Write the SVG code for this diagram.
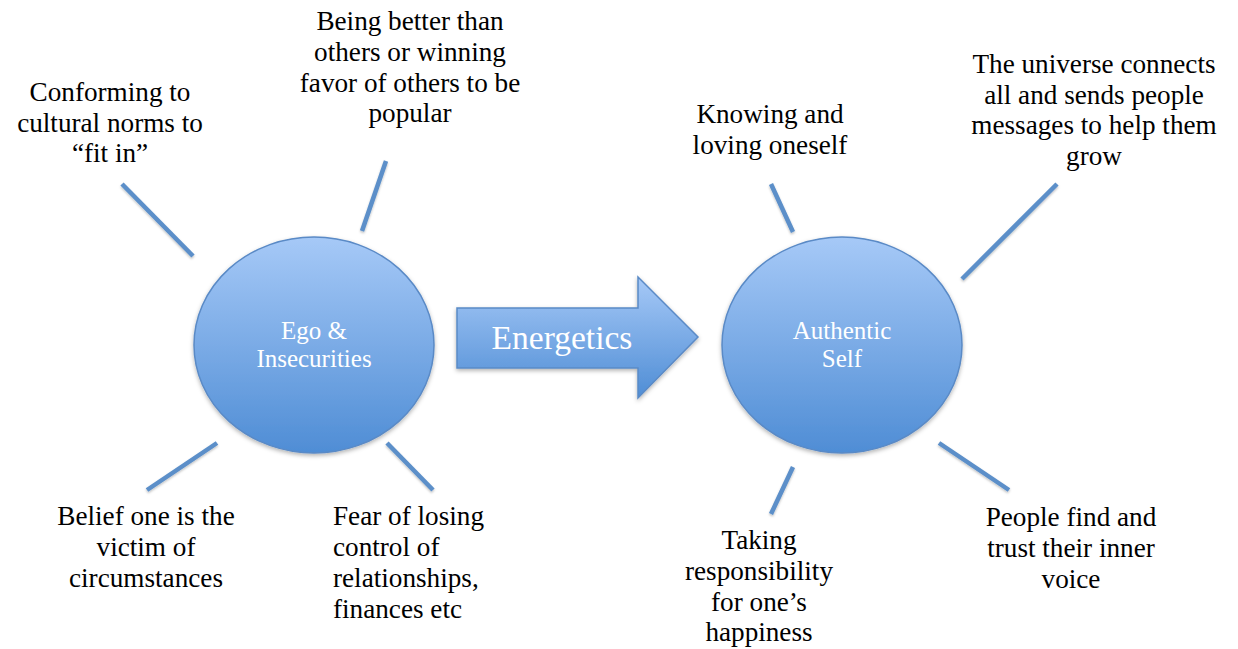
<svg xmlns="http://www.w3.org/2000/svg" width="1238" height="649" viewBox="0 0 1238 649">
  <defs>
    <linearGradient id="blueGrad" x1="0" y1="0" x2="0" y2="1">
      <stop offset="0" stop-color="#a6c9f7"/>
      <stop offset="1" stop-color="#4f8dd5"/>
    </linearGradient>
    <filter id="shadow" x="-20%" y="-20%" width="140%" height="140%">
      <feDropShadow dx="0" dy="2" stdDeviation="2" flood-color="#000" flood-opacity="0.3"/>
    </filter>
    <filter id="lshadow" x="-20%" y="-20%" width="140%" height="140%">
      <feDropShadow dx="0" dy="1.5" stdDeviation="1" flood-color="#000" flood-opacity="0.25"/>
    </filter>
  </defs>
  <style>
    .shape { fill: url(#blueGrad); stroke: #5a8ac6; stroke-width: 1.5; filter: url(#shadow); }
    .conn { stroke: #5b8fc9; stroke-width: 4.5; fill: none; filter: url(#lshadow); }
    .lbl { font-family: "Liberation Serif", "Times New Roman", serif; font-size: 27.2px; fill: #000; text-anchor: middle; }
    .lbl-left { text-anchor: start; }
    .inner { font-family: "Liberation Serif", "Times New Roman", serif; font-size: 25px; fill: #ffffff; text-anchor: middle; }
    .big { font-family: "Liberation Serif", "Times New Roman", serif; font-size: 33.5px; fill: #ffffff; text-anchor: middle; }
  </style>
  <rect width="1238" height="649" fill="#ffffff"/>

  <g id="connectors">
    <line class="conn" x1="122" y1="184" x2="193" y2="256"/>
    <line class="conn" x1="386" y1="161" x2="362" y2="231"/>
    <line class="conn" x1="217" y1="443" x2="147" y2="490"/>
    <line class="conn" x1="387" y1="443" x2="433" y2="490"/>
    <line class="conn" x1="771" y1="184" x2="793" y2="232"/>
    <line class="conn" x1="1057" y1="184" x2="962" y2="279"/>
    <line class="conn" x1="793" y1="467" x2="771" y2="514"/>
    <line class="conn" x1="939" y1="443" x2="1009" y2="490"/>
  </g>

  <g id="ego">
    <ellipse class="shape" cx="314" cy="345" rx="120" ry="108"/>
    <text class="inner" x="314" y="339">Ego &amp;</text>
    <text class="inner" x="314" y="367">Insecurities</text>
  </g>

  <g id="energetics">
    <path class="shape" d="M457 308 L638 308 L638 277 L698 337 L638 398 L638 368 L457 368 Z"/>
    <text class="big" x="562" y="349">Energetics</text>
  </g>

  <g id="authentic">
    <ellipse class="shape" cx="842" cy="345" rx="120" ry="108"/>
    <text class="inner" x="842" y="339">Authentic</text>
    <text class="inner" x="842" y="367">Self</text>
  </g>

  <g id="conforming">
    <text class="lbl" x="110" y="101">Conforming to</text>
    <text class="lbl" x="110" y="132">cultural norms to</text>
    <text class="lbl" x="110" y="162">“fit in”</text>
  </g>

  <g id="being-better">
    <text class="lbl" x="410" y="30">Being better than</text>
    <text class="lbl" x="410" y="61">others or winning</text>
    <text class="lbl" x="410" y="92">favor of others to be</text>
    <text class="lbl" x="410" y="122">popular</text>
  </g>

  <g id="belief">
    <text class="lbl" x="146" y="525">Belief one is the</text>
    <text class="lbl" x="146" y="556">victim of</text>
    <text class="lbl" x="146" y="587">circumstances</text>
  </g>

  <g id="fear">
    <text class="lbl lbl-left" x="333" y="525">Fear of losing</text>
    <text class="lbl lbl-left" x="333" y="556">control of</text>
    <text class="lbl lbl-left" x="333" y="587">relationships,</text>
    <text class="lbl lbl-left" x="333" y="618">finances etc</text>
  </g>

  <g id="knowing">
    <text class="lbl" x="770" y="123">Knowing and</text>
    <text class="lbl" x="770" y="154">loving oneself</text>
  </g>

  <g id="universe">
    <text class="lbl" x="1094" y="73">The universe connects</text>
    <text class="lbl" x="1094" y="104">all and sends people</text>
    <text class="lbl" x="1094" y="134">messages to help them</text>
    <text class="lbl" x="1094" y="165">grow</text>
  </g>

  <g id="taking">
    <text class="lbl" x="759" y="549">Taking</text>
    <text class="lbl" x="759" y="580">responsibility</text>
    <text class="lbl" x="759" y="611">for one’s</text>
    <text class="lbl" x="759" y="641">happiness</text>
  </g>

  <g id="people">
    <text class="lbl" x="1071" y="526">People find and</text>
    <text class="lbl" x="1071" y="557">trust their inner</text>
    <text class="lbl" x="1071" y="588">voice</text>
  </g>
</svg>
